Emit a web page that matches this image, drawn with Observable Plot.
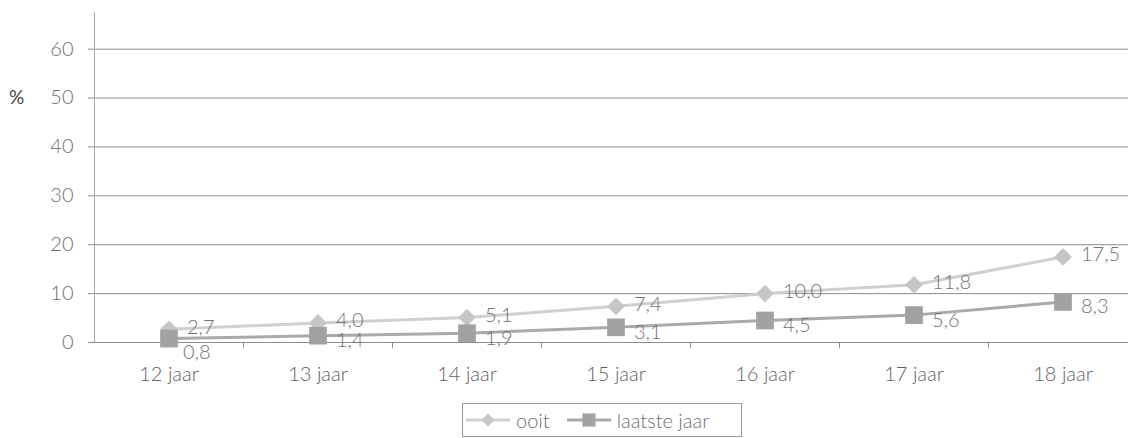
<!DOCTYPE html>
<html>
<head>
<meta charset="utf-8">
<script src="https://cdn.jsdelivr.net/npm/d3@7"></script>
<script src="https://cdn.jsdelivr.net/npm/@observablehq/plot@0.6"></script>
<style>
  html, body { margin: 0; padding: 0; background: #fff; overflow: hidden; width: 1128px; height: 438px; }
  #wrap { position: relative; width: 1137px; font-family: Lato, "Open Sans", sans-serif; }
  #unit { position: absolute; left: 9px; top: 85px; font-size: 19px; color: #444; }
  #legend { position: absolute; left: 462px; top: 403px; width: 280px; height: 34px; border: 1px solid #9a9a9a; box-sizing: border-box;
            display: flex; align-items: center; font-size: 20px; color: #6f6f6f; font-weight: 300; }
  .item { display: flex; align-items: center; margin-left: 3px; margin-right: 14px; }
  .item svg { margin-right: 6px; }
</style>
</head>
<body>
<div id="wrap">
  <div id="chart"></div>
  <div id="unit">%</div>
  <div id="legend"></div>
</div>
<script>
const ages = ["12 jaar", "13 jaar", "14 jaar", "15 jaar", "16 jaar", "17 jaar", "18 jaar"];
const ooit = [2.7, 4.0, 5.1, 7.4, 10.0, 11.8, 17.5];
const laatsteJaar = [0.8, 1.4, 1.9, 3.1, 4.5, 5.6, 8.3];
const seriesNames = ["ooit", "laatste jaar"];
const yTicks = [0, 10, 20, 30, 40, 50, 60];

const colOoitLine = "#d0d0d0", colOoitDot = "#c6c6c6";
const colLjLine = "#aaaaaa", colLjDot = "#a2a2a2";

const rowsOoit = ages.map((age, i) => ({i, age, value: ooit[i], series: seriesNames[0]}));
const rowsLj = ages.map((age, i) => ({i, age, value: laatsteJaar[i], series: seriesNames[1]}));
const fmt = d => d.value.toFixed(1).replace(".", ",");

const chart = Plot.plot({
  width: 1137,
  height: 400,
  marginLeft: 94,
  marginRight: 0,
  marginTop: 12,
  marginBottom: 58,
  style: {fontFamily: "Lato, 'Open Sans', sans-serif", fontSize: "19px", fontWeight: 300, color: "#6f6f6f", background: "#fff"},
  x: {domain: [-0.5, ages.length - 0.5], axis: null},
  y: {domain: [0, 67.5], axis: null},
  marks: [
    Plot.gridY(yTicks.filter(t => t > 0), {stroke: "#8c8c8c", strokeOpacity: 1, strokeWidth: 1}),
    Plot.ruleY([0], {stroke: "#8c8c8c", strokeWidth: 1}),
    Plot.ruleX([-0.5], {y1: 0, y2: 67.5, stroke: "#aaa", strokeWidth: 1}),
    Plot.axisY({ticks: yTicks, tickSize: 6, tickPadding: 15, label: null, stroke: "#8c8c8c", fill: "#6f6f6f", fontSize: 20}),
    Plot.axisX({ticks: d3.range(0.5, ages.length - 0.5, 1), tickSize: 6, tickFormat: () => "", label: null, stroke: "#8c8c8c"}),
    Plot.axisX({ticks: d3.range(0, ages.length), tickSize: 0, tickPadding: 24, tickFormat: i => ages[i], label: null, fill: "#5f5f5f", fontSize: 20}),
    Plot.line(rowsOoit, {x: "i", y: "value", stroke: colOoitLine, strokeWidth: 3}),
    Plot.line(rowsLj, {x: "i", y: "value", stroke: colLjLine, strokeWidth: 3}),
    Plot.dot(rowsOoit, {x: "i", y: "value", symbol: "diamond2", r: 8, fill: colOoitDot, stroke: "none"}),
    Plot.dot(rowsLj, {x: "i", y: "value", symbol: "square", r: 10, fill: colLjDot, stroke: "none"}),
    Plot.text(rowsOoit, {x: "i", y: "value", text: fmt, dx: 18, dy: -2, textAnchor: "start", fill: "#737373", fontSize: 20}),
    Plot.text(rowsLj.filter(d => d.i > 0), {x: "i", y: "value", text: fmt, dx: 18, dy: 5, textAnchor: "start", fill: "#737373", fontSize: 20}),
    Plot.text(rowsLj.filter(d => d.i === 0), {x: "i", y: "value", text: fmt, dx: 14, dy: 14, textAnchor: "start", fill: "#737373", fontSize: 20})
  ]
});
document.getElementById("chart").appendChild(chart);

// legend
const legend = d3.select("#legend");
const items = [
  {name: seriesNames[0], line: colOoitLine, fill: colOoitDot, symbol: d3.symbolDiamond2, size: Math.PI * 64 * 0.55},
  {name: seriesNames[1], line: colLjLine, fill: colLjDot, symbol: d3.symbolSquare, size: Math.PI * 100 * 0.55}
];
items.forEach(it => {
  const d = legend.append("div").attr("class", "item");
  const s = d.append("svg").attr("width", 44).attr("height", 20);
  s.append("line").attr("x1", 0).attr("x2", 44).attr("y1", 10).attr("y2", 10).attr("stroke", it.line).attr("stroke-width", 3);
  s.append("path").attr("transform", "translate(22,10)").attr("d", d3.symbol(it.symbol, it.size)()).attr("fill", it.fill);
  d.append("span").text(it.name);
});
</script>
</body>
</html>
